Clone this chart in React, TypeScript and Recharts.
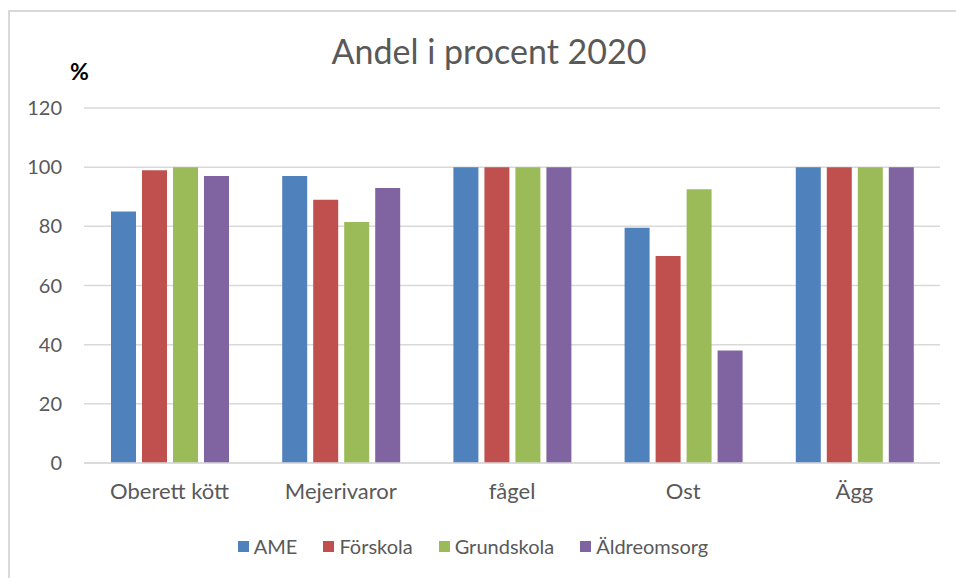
import { BarChart, Bar, XAxis, YAxis, CartesianGrid } from 'recharts';

const categories = ['Oberett kött', 'Mejerivaror', 'fågel', 'Ost', 'Ägg'];
const ame = [85, 97, 100, 79.5, 100];
const forskola = [99, 89, 100, 70, 100];
const grundskola = [100, 81.5, 100, 92.5, 100];
const aldreomsorg = [97, 93, 100, 38, 100];
const yTicks = [0, 20, 40, 60, 80, 100, 120];

const series = [
  { key: 'ame', name: 'AME', color: '#4F81BD' },
  { key: 'forskola', name: 'Förskola', color: '#C0504D' },
  { key: 'grundskola', name: 'Grundskola', color: '#9BBB59' },
  { key: 'aldreomsorg', name: 'Äldreomsorg', color: '#8064A2' },
];

const data = categories.map((name, i) => ({
  name,
  ame: ame[i],
  forskola: forskola[i],
  grundskola: grundskola[i],
  aldreomsorg: aldreomsorg[i],
}));

const FONT = 'Lato, "Open Sans", sans-serif';
const TEXT = '#595959';

// legend drawn outside the chart so it doesn't eat into the plot height
function ChartLegend() {
  return (
    <div
      style={{
        position: 'absolute',
        left: 0,
        width: 972,
        top: 534,
        display: 'flex',
        justifyContent: 'center',
        fontFamily: FONT,
        fontSize: 20,
        color: TEXT,
      }}
    >
      {series.map((s) => (
        <div key={s.key} style={{ display: 'flex', alignItems: 'center', marginRight: 26 }}>
          <span style={{ width: 11, height: 11, background: s.color, marginRight: 5, display: 'inline-block' }} />
          <span>{s.name}</span>
        </div>
      ))}
    </div>
  );
}

export default function App() {
  return (
    <div style={{ position: 'absolute', left: 0, top: 0, width: 956, height: 578, overflow: 'hidden', background: 'white' }}>
      <div
        style={{
          position: 'absolute',
          left: 8,
          top: 10,
          width: 960,
          height: 580,
          borderTop: '2px solid #D9D9D9',
          borderLeft: '2px solid #D9D9D9',
          boxSizing: 'border-box',
        }}
      />
      <div
        style={{
          position: 'absolute',
          left: 0,
          width: 978,
          top: 30,
          textAlign: 'center',
          fontFamily: FONT,
          fontSize: 34,
          color: TEXT,
        }}
      >
        Andel i procent 2020
      </div>
      <div
        style={{
          position: 'absolute',
          left: 70,
          top: 57,
          fontFamily: FONT,
          fontSize: 23,
          fontWeight: 'bold',
          color: '#000',
        }}
      >
        %
      </div>
      <div style={{ position: 'absolute', left: 0, top: 0 }}>
        <BarChart
          width={956}
          height={578}
          data={data}
          margin={{ top: 108, right: 16, left: 34, bottom: 65 }}
          barSize={25}
          barGap={6}
        >
          <CartesianGrid vertical={false} stroke="#D9D9D9" strokeWidth={1.5} />
          <XAxis
            dataKey="name"
            axisLine={{ stroke: '#D9D9D9', strokeWidth: 1.5 }}
            tickLine={false}
            tickMargin={14}
            height={50}
            tick={{ fill: TEXT, fontSize: 22, fontFamily: FONT }}
          />
          <YAxis
            domain={[0, 120]}
            ticks={yTicks}
            width={50}
            axisLine={false}
            tickLine={false}
            tickMargin={16}
            tick={{ fill: TEXT, fontSize: 20, fontFamily: FONT }}
          />
          {series.map((s) => (
            <Bar key={s.key} dataKey={s.key} name={s.name} fill={s.color} isAnimationActive={false} />
          ))}
        </BarChart>
      </div>
      <ChartLegend />
    </div>
  );
}
